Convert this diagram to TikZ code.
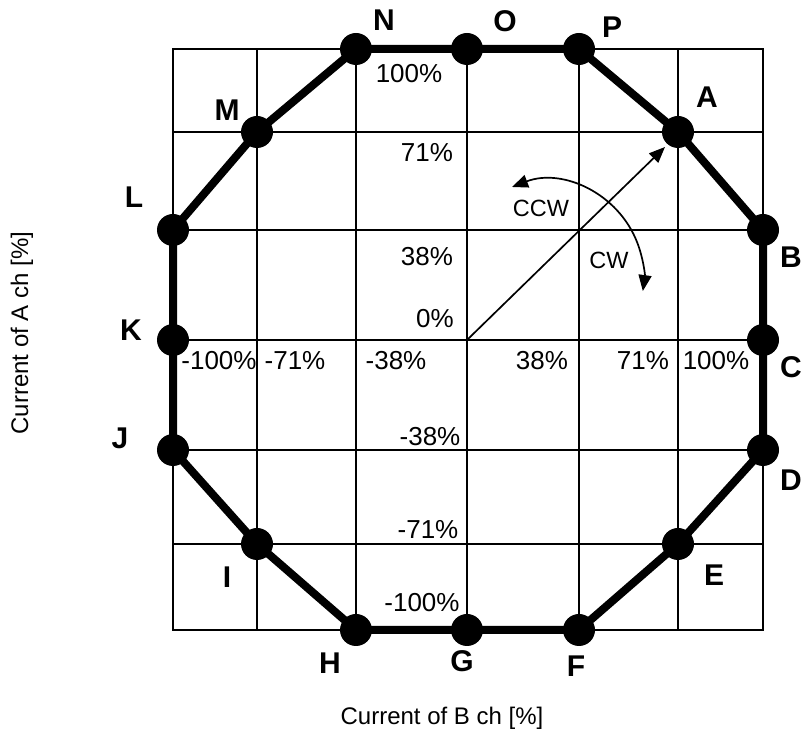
\documentclass[tikz,border=0pt]{standalone}
\usepackage{fontspec}
\setmainfont{Liberation Sans}
\usetikzlibrary{arrows.meta}
\begin{document}
\begin{tikzpicture}[x=1pt,y=1pt,
  gridline/.style={line width=1.7pt},
  octa/.style={line width=8pt,line join=round},
  vdot/.style={circle,fill=black,minimum size=32pt,inner sep=0pt},
  ptlabel/.style={font=\fontsize{30}{35}\selectfont\bfseries,inner sep=0pt},
  pct/.style={font=\fontsize{26}{31}\selectfont,inner sep=0pt},
  dirlabel/.style={font=\fontsize{23.5}{28}\selectfont,inner sep=0pt},
  axlabel/.style={font=\fontsize{24}{28}\selectfont,inner sep=0pt},
  thinarrow/.style={line width=1.7pt}]
\useasboundingbox (0,0) rectangle (803,738);
% grid
\draw[gridline] (173,108) rectangle (763,689);
\foreach \x in {257,356,467,579,678} \draw[gridline] (\x,108) -- (\x,689);
\foreach \y in {194,288,398,508,606} \draw[gridline] (173,\y) -- (763,\y);
% vertices
\coordinate (A) at (678,606);
\coordinate (B) at (763,508);
\coordinate (C) at (763,398);
\coordinate (D) at (763,288);
\coordinate (E) at (678,194);
\coordinate (F) at (579,108);
\coordinate (G) at (467,108);
\coordinate (H) at (356,108);
\coordinate (I) at (257,194);
\coordinate (J) at (173,288);
\coordinate (K) at (173,398);
\coordinate (L) at (173,508);
\coordinate (M) at (257,606);
\coordinate (N) at (356,689);
\coordinate (O) at (467,689);
\coordinate (P) at (579,689);
\draw[octa] (A) -- (B) -- (C) -- (D) -- (E) -- (F) -- (G) -- (H) -- (I) -- (J) -- (K) -- (L) -- (M) -- (N) -- (O) -- (P) -- cycle;
\foreach \v in {A,B,C,D,E,F,G,H,I,J,K,L,M,N,O,P} \node[vdot] (d\v) at (\v) {};
% vertex labels
\node[ptlabel] (lA) at (707,641) {A};
\node[ptlabel] (lB) at (791,481) {B};
\node[ptlabel] (lC) at (791,371) {C};
\node[ptlabel] (lD) at (791,258) {D};
\node[ptlabel] (lE) at (714,163) {E};
\node[ptlabel] (lF) at (576,72) {F};
\node[ptlabel] (lG) at (462,77) {G};
\node[ptlabel] (lH) at (330,75) {H};
\node[ptlabel] (lI) at (227,161) {I};
\node[ptlabel] (lJ) at (120,300) {J};
\node[ptlabel] (lK) at (131,408) {K};
\node[ptlabel] (lL) at (134,541) {L};
\node[ptlabel] (lM) at (227,628) {M};
\node[ptlabel] (lN) at (384,718) {N};
\node[ptlabel] (lO) at (505,717) {O};
\node[ptlabel] (lP) at (612,711) {P};
% percent labels
\node[pct] (y100) at (409,664) {100\%};
\node[pct] (y71) at (427,585) {71\%};
\node[pct] (y38) at (427,481) {38\%};
\node[pct] (y0) at (435,419) {0\%};
\node[pct] (xm100) at (219,377) {-100\%};
\node[pct] (xm71) at (295,377) {-71\%};
\node[pct] (xm38) at (396,377) {-38\%};
\node[pct] (x38) at (542,377) {38\%};
\node[pct] (x71) at (643,377) {71\%};
\node[pct] (x100) at (716,377) {100\%};
\node[pct] (ym38) at (430,301) {-38\%};
\node[pct] (ym71) at (428,208) {-71\%};
\node[pct] (ym100) at (422,135) {-100\%};
% vector arrow
\coordinate (orig) at (467,398);
\coordinate (atip) at (665,591);
\draw[thinarrow,-{Triangle[length=16pt,width=13pt]}] (orig) -- (atip);
% rotation arc
\coordinate (arcstart) at (512,551);
\draw[thinarrow,{Triangle[length=16pt,width=13pt]}-{Triangle[length=16pt,width=13pt]}] (arcstart) arc[start angle=111,end angle=-8,radius=97];
\node[dirlabel] (ccw) at (541,530) {CCW};
\node[dirlabel] (cw) at (609,478) {CW};
% axis labels
\node[axlabel] (xlab) at (442,20) {Current of B ch [\%]};
\node[axlabel,rotate=90] (ylab) at (22,405) {Current of A ch [\%]};
\end{tikzpicture}
\end{document}
